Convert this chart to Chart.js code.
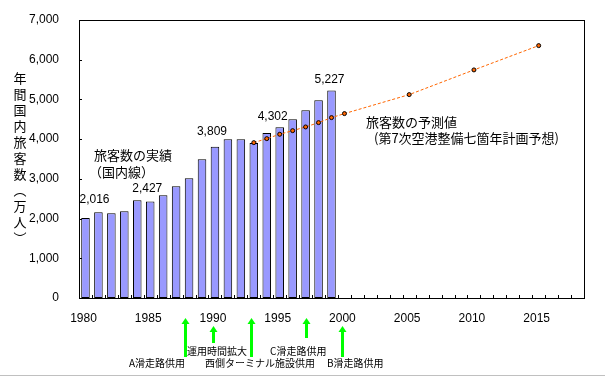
<!DOCTYPE html>
<html>
<head>
<meta charset="utf-8">
<script src="https://cdn.jsdelivr.net/npm/chart.js@4.4.1/dist/chart.umd.min.js"></script>
<style>
  html, body { margin: 0; padding: 0; background: #fff; }
  canvas { display: block; }
</style>
</head>
<body>
<canvas id="passengerChart" width="605" height="377"></canvas>
<script>
// category axis (one slot per year)
const years = ['1980','1981','1982','1983','1984','1985','1986','1987','1988','1989',
               '1990','1991','1992','1993','1994','1995','1996','1997','1998','1999',
               '2000','2001','2002','2003','2004','2005','2006','2007','2008','2009',
               '2010','2011','2012','2013','2014','2015','2016','2017','2018'];
const xTickLabels = ['1980','1985','1990','1995','2000','2005','2010','2015'];
const yTicks = [0, 1000, 2000, 3000, 4000, 5000, 6000, 7000];

// actual passengers (10k people)
const actualYears = ['1980','1981','1982','1983','1984','1985','1986','1987','1988','1989',
                     '1990','1991','1992','1993','1994','1995','1996','1997','1998','1999'];
const actualValues = [2016, 2158, 2133, 2183, 2461, 2427, 2587, 2814, 3015, 3494,
                      3809, 3997, 3997, 3904, 4156, 4302, 4501, 4728, 4980, 5227];

// forecast (7th airport plan)
const forecastYears = ['1993','1994','1995','1996','1997','1998','1999','2000','2005','2010','2015'];
const forecastValues = [3912, 4013, 4123, 4214, 4307, 4416, 4542, 4643, 5121, 5743, 6355];

// bars that get a value label
const labelledYears = ['1980','1985','1990','1995','1999'];

// events under the axis
const eventNames = ['A滑走路供用', '運用時間拡大', '西側ターミナル施設供用', 'C滑走路供用', 'B滑走路供用'];
const eventYears = [1987.7, 1989.85, 1992.8, 1997.05, 1999.8];

const barData = years.map(y => {
  const i = actualYears.indexOf(y);
  return i < 0 ? null : actualValues[i];
});
const lineData = years.map(y => {
  const i = forecastYears.indexOf(y);
  return i < 0 ? null : forecastValues[i];
});

const fmt = v => v.toLocaleString('en-US');
const jp = size => size + 'px "Noto Sans CJK JP"';

// frame, inner ticks, notes, arrows
const extras = {
  id: 'extras',
  beforeDraw(chart) {
    const ctx = chart.ctx;
    ctx.save();
    ctx.fillStyle = '#fff';
    ctx.fillRect(0, 0, chart.width, chart.height);
    ctx.restore();
  },
  afterDraw(chart) {
    const { ctx, chartArea: a, scales: { x, y } } = chart;
    ctx.save();

    ctx.strokeStyle = '#000';
    ctx.lineWidth = 1;
    ctx.strokeRect(Math.round(a.left) + 0.5, Math.round(a.top) + 0.5,
                   Math.round(a.right - a.left), Math.round(a.bottom - a.top));

    // ticks pointing inward
    ctx.beginPath();
    for (let i = 1; i < years.length; i++) {
      const px = Math.round((x.getPixelForValue(i - 1) + x.getPixelForValue(i)) / 2) + 0.5;
      ctx.moveTo(px, a.bottom);
      ctx.lineTo(px, a.bottom - 3);
    }
    yTicks.forEach(v => {
      const py = Math.round(y.getPixelForValue(v)) + 0.5;
      ctx.moveTo(a.left, py);
      ctx.lineTo(a.left + 3, py);
    });
    ctx.stroke();

    // vertical axis title
    ctx.fillStyle = '#000';
    ctx.font = jp(13);
    ctx.textAlign = 'center';
    ctx.textBaseline = 'middle';
    const title = ['年','間','国','内','旅','客','数','︵','万','人','︶'];
    title.forEach((c, i) => ctx.fillText(c, 20, 78 + i * 16));

    // value labels over some bars
    const labelShift = [[9, -15], [-3, -10], [-3, -12], [-7, -7], [-2, -7]];
    ctx.font = '12px "Liberation Sans"';
    ctx.textBaseline = 'alphabetic';
    labelledYears.forEach((yr, k) => {
      const v = actualValues[actualYears.indexOf(yr)];
      const px = x.getPixelForValue(years.indexOf(yr)) + labelShift[k][0];
      const py = y.getPixelForValue(v) + labelShift[k][1];
      ctx.fillText(fmt(v), px, py);
    });

    // series notes
    ctx.textAlign = 'left';
    ctx.font = jp(13);
    ctx.fillText('旅客数の実績', 94, 160);
    ctx.fillText('（国内線）', 89, 177);
    ctx.fillText('旅客数の予測値', 366, 127);
    ctx.fillText('(第7次空港整備七箇年計画予想)', 374, 143);

    // event arrows
    const step = x.getPixelForValue(1) - x.getPixelForValue(0);
    const arrowTop = [318, 326, 318, 318, 326];
    const arrowBottom = [357, 343, 357, 338, 357];
    ctx.fillStyle = '#00ff00';
    eventYears.forEach((ey, k) => {
      const px = Math.round(x.getPixelForValue(0) + (ey - 1980) * step);
      const t = arrowTop[k];
      ctx.beginPath();
      ctx.moveTo(px + 0.5, t);
      ctx.lineTo(px + 4.5, t + 6);
      ctx.lineTo(px - 3.5, t + 6);
      ctx.closePath();
      ctx.fill();
      ctx.fillRect(px - 1, t + 5, 3, arrowBottom[k] - t - 5);
    });

    // event names
    ctx.fillStyle = '#000';
    ctx.font = jp(10);
    const eventPos = [[129, 367], [187, 355], [205, 367], [270, 355], [327, 367]];
    eventNames.forEach((n, k) => ctx.fillText(n, eventPos[k][0], eventPos[k][1]));

    // thin grey rule at the bottom
    ctx.fillStyle = '#c0c0c0';
    ctx.fillRect(0, 375, chart.width, 1);

    ctx.restore();
  }
};

new Chart(document.getElementById('passengerChart'), {
  data: {
    labels: years,
    datasets: [
      {
        type: 'line',
        data: lineData,
        borderColor: '#ff6600',
        borderWidth: 1,
        borderDash: [3, 2],
        pointRadius: 2,
        pointBackgroundColor: '#ff6600',
        pointBorderColor: '#000',
        pointBorderWidth: 1,
        spanGaps: true,
        fill: false,
        tension: 0,
        order: 0
      },
      {
        type: 'bar',
        data: barData,
        backgroundColor: '#9999ff',
        borderColor: '#000',
        borderWidth: 1,
        borderSkipped: false,
        barPercentage: 0.66,
        categoryPercentage: 1,
        order: 1
      }
    ]
  },
  options: {
    responsive: false,
    animation: false,
    devicePixelRatio: 1,
    layout: { padding: { top: 20, right: 21, left: 0, bottom: 0 } },
    plugins: { legend: { display: false }, tooltip: { enabled: false } },
    scales: {
      x: {
        type: 'category',
        offset: true,
        grid: { display: false },
        border: { display: false },
        ticks: {
          autoSkip: false,
          maxRotation: 0,
          minRotation: 0,
          padding: 5,
          labelOffset: -2,
          color: '#000',
          font: { family: 'Liberation Sans', size: 12 },
          callback: (v, i) => xTickLabels.includes(years[i]) ? years[i] : ''
        },
        afterFit: s => { s.height = 79; }
      },
      y: {
        min: 0,
        max: 7000,
        afterBuildTicks: s => { s.ticks = yTicks.map(v => ({ value: v })); },
        grid: { display: false },
        border: { display: false },
        ticks: {
          padding: 12,
          color: '#000',
          font: { family: 'Liberation Sans', size: 12 },
          callback: v => fmt(v)
        },
        afterFit: s => { s.width = 79; }
      }
    }
  },
  plugins: [extras]
});
</script>
</body>
</html>
